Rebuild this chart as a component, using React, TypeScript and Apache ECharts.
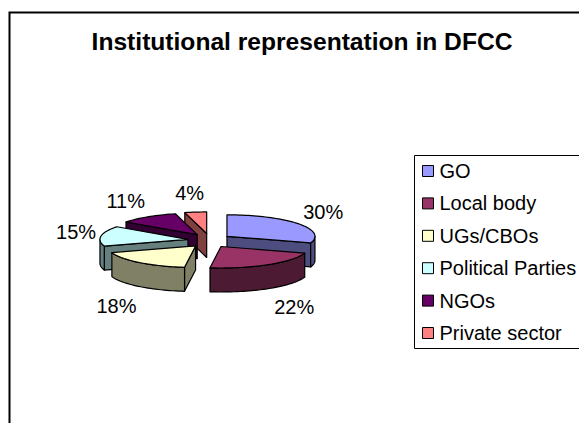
import React, { useEffect, useRef } from "react";
import * as echarts from "echarts";

const titleText = "Institutional representation in DFCC";
const categories = ["GO", "Local body", "UGs/CBOs", "Political Parties", "NGOs", "Private sector"];
const values = [30, 22, 18, 15, 11, 4];
const topColors = ["#9999FF", "#993366", "#FFFFCC", "#CCFFFF", "#660066", "#FF8080"];
const sideColors = ["#4D4D80", "#4D1A33", "#808066", "#668080", "#330033", "#804040"];
// paint order, back to front
const paintOrder = [5, 6, 4, 3, 2, 1];
// label offset from the rim point at each slice's middle angle
const labelNudge = [
  [25, -12],
  [26, 42],
  [-23, 43],
  [-25, -4],
  [-22, -16],
  [-6, -19],
];

const FONT = "Liberation Sans, Arial, sans-serif";
const CX = 209.4;
const CY = 240.5;
const RX = 88;
const RY = 21.5;
const DEPTH = 24;
const EXPLODE_X = 21.7;
const EXPLODE_Y = 7.1;

const total = values.reduce((a, b) => a + b, 0);
const rad = (d: number) => (d * Math.PI) / 180;

function arcPoints(ax: number, ay: number, from: number, to: number, dy = 0) {
  const pts: number[][] = [];
  const n = Math.max(2, Math.ceil((to - from) / 2));
  for (let i = 0; i <= n; i++) {
    const t = rad(from + ((to - from) * i) / n);
    pts.push([ax + RX * Math.sin(t), ay - RY * Math.cos(t) + dy]);
  }
  return pts;
}

function makeRenderItem(index: number) {
  return (_params: any, api: any) => {
    const value = api.value(0) as number;
    const before = values.slice(0, index).reduce((a, b) => a + b, 0);
    const a0 = (before / total) * 360;
    const a1 = a0 + (value / total) * 360;
    const mid = (a0 + a1) / 2;
    const ax = CX + EXPLODE_X * Math.sin(rad(mid));
    const ay = CY - EXPLODE_Y * Math.cos(rad(mid));
    const line = { stroke: "#000", lineWidth: 1.2, lineJoin: "round" };
    const side = { ...line, fill: sideColors[index] };
    const children: any[] = [];

    const face = (deg: number) => {
      const rx = ax + RX * Math.sin(rad(deg));
      const ry = ay - RY * Math.cos(rad(deg));
      children.push({
        type: "polygon",
        shape: { points: [[ax, ay], [rx, ry], [rx, ry + DEPTH], [ax, ay + DEPTH]] },
        style: side,
      });
    };
    if (Math.sin(rad(a0)) < -1e-6) face(a0);
    if (Math.sin(rad(a1)) > 1e-6) face(a1);

    const w0 = Math.max(a0, 90);
    const w1 = Math.min(a1, 270);
    if (w1 > w0) {
      const top = arcPoints(ax, ay, w0, w1);
      const bottom = arcPoints(ax, ay, w0, w1, DEPTH).reverse();
      children.push({ type: "polygon", shape: { points: [...top, ...bottom] }, style: side });
    }

    children.push({
      type: "polygon",
      shape: { points: [[ax, ay], ...arcPoints(ax, ay, a0, a1)] },
      style: { ...line, fill: topColors[index] },
    });

    children.push({
      type: "text",
      x: ax + RX * Math.sin(rad(mid)) + labelNudge[index][0],
      y: ay - RY * Math.cos(rad(mid)) + labelNudge[index][1],
      style: {
        text: `${Math.round((value / total) * 100)}%`,
        fill: "#000",
        font: `20px ${FONT}`,
        align: "center",
        verticalAlign: "middle",
      },
    });
    return { type: "group", children };
  };
}

export default function App() {
  const ref = useRef<HTMLDivElement>(null);
  useEffect(() => {
    const chart = echarts.init(ref.current!, undefined, { renderer: "svg" });
    chart.setOption({
      animation: false,
      backgroundColor: "#fff",
      title: {
        text: titleText,
        left: 297,
        top: 24,
        textAlign: "center",
        textStyle: { fontFamily: FONT, fontWeight: "bold", fontSize: 24.6, color: "#000" },
      },
      legend: {
        orient: "vertical",
        left: 417,
        top: 156,
        padding: 5,
        itemWidth: 11,
        itemHeight: 11,
        itemGap: 12.4,
        icon: "rect",
        selectedMode: false,
        itemStyle: { borderColor: "#000", borderWidth: 1 },
        textStyle: { fontFamily: FONT, fontSize: 20, color: "#000", padding: [0, 0, 0, 1] },
        data: categories,
      },
      graphic: [
        {
          type: "rect",
          z: -1,
          shape: { x: 9.5, y: 12.5, width: 800, height: 800 },
          style: { fill: "none", stroke: "#000", lineWidth: 2 },
        },
        {
          type: "rect",
          z: -1,
          shape: { x: 414.5, y: 155.5, width: 300, height: 193 },
          style: { fill: "#fff", stroke: "#000", lineWidth: 1 },
        },
      ],
      series: categories.map((name, i) => ({
        type: "custom",
        name,
        coordinateSystem: "none",
        z: paintOrder[i],
        silent: true,
        data: [[values[i]]],
        itemStyle: { color: topColors[i] },
        renderItem: makeRenderItem(i),
      })),
    });
    return () => chart.dispose();
  }, []);
  return <div ref={ref} style={{ position: "fixed", left: 0, top: 0, width: 579, height: 423 }} />;
}
